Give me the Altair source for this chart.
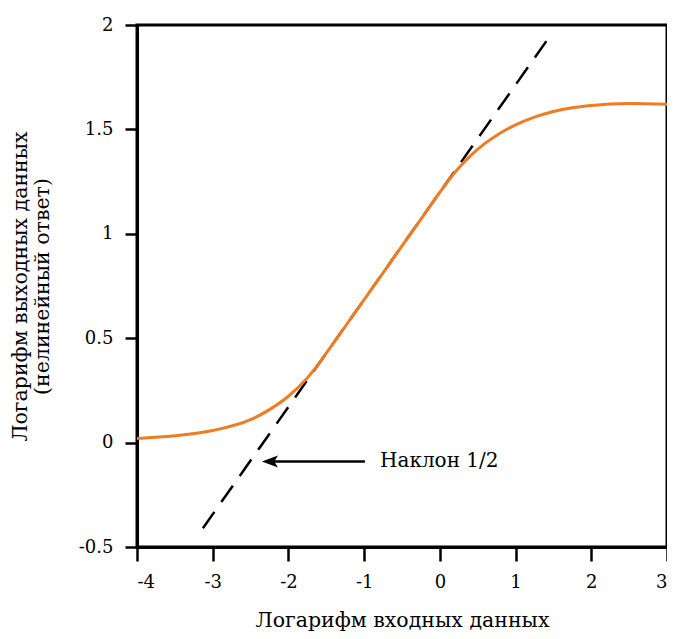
import altair as alt
import pandas as pd

# Orange curve (nonlinear response)
curve_x = [-4, -3.5, -3, -2.5, -2.25, -2, -1.75, -1.5, -1.25, -1, -0.75, -0.5, -0.25, 0, 0.2, 0.4, 0.6, 0.8, 1, 1.25, 1.5, 1.75, 2, 2.5, 3]
curve_y = [0.02, 0.033, 0.058, 0.11, 0.158, 0.222, 0.31, 0.428, 0.556, 0.685, 0.813, 0.942, 1.07, 1.199, 1.295, 1.372, 1.434, 1.483, 1.522, 1.559, 1.586, 1.604, 1.615, 1.624, 1.62]

# Dashed line, slope 1/2
slope_x = [-3.13, 1.46]
slope_y = [-0.41, 1.95]

# Annotation arrow and label
arrow_x = [-0.99, -2.3]
arrow_y = [-0.09, -0.09]
arrow_tip_x = [-2.35]
label_x = [-0.79]
label_y = [-0.09]
label_text = ["Наклон 1/2"]

x_ticks = [-4, -3, -2, -1, 0, 1, 2, 3]
y_ticks = [-0.5, 0, 0.5, 1, 1.5, 2]

FONT = "DejaVu Serif, serif"
ORANGE = "#ef7b22"

xs = alt.Scale(domain=[-4, 3], nice=False, zero=False)
ys = alt.Scale(domain=[-0.5, 2], nice=False, zero=False)

x_axis = alt.Axis(values=x_ticks, title="Логарифм входных данных", labelExpr="toString(datum.value)",
                  titlePadding=19, labelPadding=12, tickSize=14,
                  labelFont=FONT, titleFont=FONT)
y_axis = alt.Axis(values=y_ticks, title=["Логарифм выходных данных", "(нелинейный ответ)"],
                  labelExpr="toString(datum.value)", titlePadding=26, labelPadding=12, tickSize=12,
                  titleLineHeight=22, labelFont=FONT, titleFont=FONT)

curve_df = pd.DataFrame({"x": curve_x, "y": curve_y})
slope_df = pd.DataFrame({"x": slope_x, "y": slope_y})
arrow_df = pd.DataFrame({"x": arrow_x, "y": arrow_y})
tip_df = pd.DataFrame({"x": arrow_tip_x, "y": [arrow_y[0]]})
label_df = pd.DataFrame({"x": label_x, "y": label_y, "t": label_text})

curve = alt.Chart(curve_df).mark_line(color=ORANGE, strokeWidth=3, interpolate="monotone").encode(
    x=alt.X("x:Q", scale=xs, axis=x_axis),
    y=alt.Y("y:Q", scale=ys, axis=y_axis),
)

slope = alt.Chart(slope_df).mark_line(color="black", strokeWidth=2.5, strokeDash=[20, 12]).encode(
    x=alt.X("x:Q", scale=xs),
    y=alt.Y("y:Q", scale=ys),
)

arrow = alt.Chart(arrow_df).mark_line(color="black", strokeWidth=2.5).encode(
    x=alt.X("x:Q", scale=xs),
    y=alt.Y("y:Q", scale=ys),
)

tip = alt.Chart(tip_df).mark_point(
    shape="M-1,0L1,-0.75L0.55,0L1,0.75Z", filled=True, color="black", opacity=1, size=256, xOffset=8
).encode(
    x=alt.X("x:Q", scale=xs),
    y=alt.Y("y:Q", scale=ys),
)

label = alt.Chart(label_df).mark_text(align="left", baseline="middle", font=FONT, fontSize=20, color="black").encode(
    x=alt.X("x:Q", scale=xs),
    y=alt.Y("y:Q", scale=ys),
    text="t:N",
)

chart = alt.layer(slope, curve, arrow, tip, label).properties(
    width=659, height=623,
    autosize=alt.AutoSizeParams(type="fit", contains="padding"),
    padding={"left": 2, "top": 8, "right": -6, "bottom": 0},
).configure_view(
    stroke="black", strokeWidth=3
).configure_axis(
    grid=False,
    domainColor="black", domainWidth=3,
    tickColor="black", tickWidth=2.5,
    labelFont=FONT, labelFontSize=18, labelColor="black",
    titleFont=FONT, titleFontSize=20.5, titleFontWeight="normal", titleColor="black",
).configure_text(font=FONT)

chart.save("out.html", embed_options={"renderer": "svg", "actions": False})
